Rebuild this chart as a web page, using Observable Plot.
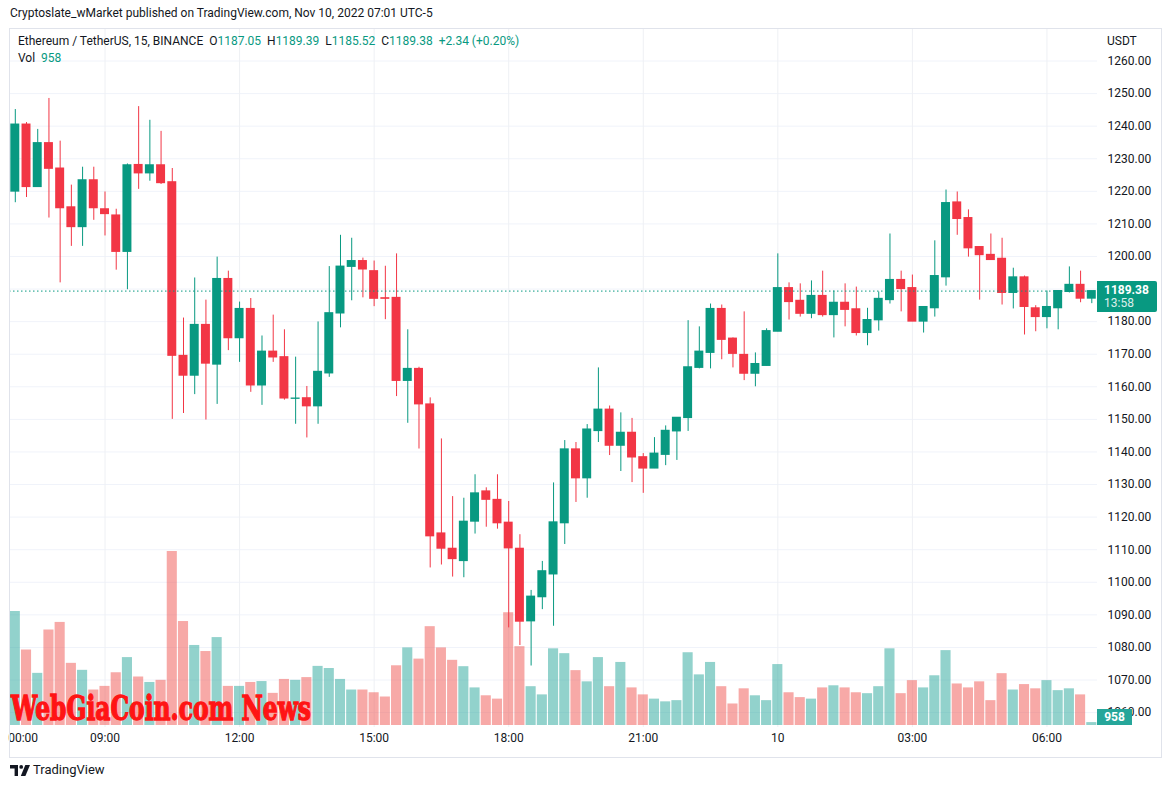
<!DOCTYPE html>
<html><head><meta charset="utf-8">
<script src="https://cdn.jsdelivr.net/npm/d3@7"></script>
<script src="https://cdn.jsdelivr.net/npm/@observablehq/plot@0.6"></script>
<style>
body{margin:0;background:#fff;font-family:Roboto,"Open Sans",sans-serif;color:#131722;}
#wrap{position:relative;width:1171px;height:788px;overflow:hidden;}
.abs{position:absolute;white-space:nowrap;}
#wrap svg{position:absolute;left:0;top:0;}
.t{color:#089981;}
</style></head><body><div id="wrap"></div>
<script>
// ---- data (15-minute candles, Nov 9 07:00 -> Nov 10 07:00) ----
const opens=[1219.9,1240.5,1221.3,1234.8,1227.0,1215.1,1209.0,1223.4,1214.5,1212.6,1201.4,1228.1,1225.5,1228.0,1222.8,1169.5,1163.4,1179.0,1166.8,1193.1,1174.9,1183.9,1160.4,1170.8,1169.1,1156.3,1156.5,1154.0,1164.1,1182.5,1196.8,1198.6,1195.5,1187.2,1187.3,1161.8,1165.5,1154.6,1115.0,1110.3,1106.5,1118.6,1127.9,1125.3,1118.3,1110.3,1088.0,1095.4,1102.4,1118.1,1140.8,1131.9,1146.4,1153.0,1141.9,1145.9,1138.4,1134.9,1139.1,1146.3,1150.4,1165.8,1170.4,1183.9,1174.8,1169.8,1164.0,1166.4,1176.9,1190.3,1186.4,1182.4,1187.9,1182.0,1185.8,1183.8,1176.5,1180.4,1186.6,1192.8,1190.3,1180.0,1184.1,1193.6,1216.6,1211.8,1202.9,1200.5,1199.3,1188.8,1193.6,1184.1,1181.4,1184.1,1189.1,1191.3,1187.05];
const highs=[1245.1,1241.1,1239.0,1248.5,1235.4,1221.9,1227.4,1227.4,1219.8,1214.5,1228.4,1246.0,1241.8,1238.4,1227.0,1181.1,1193.4,1186.6,1199.8,1195.5,1186.0,1187.1,1175.6,1182.0,1177.5,1169.1,1160.1,1179.9,1196.9,1206.5,1205.6,1199.5,1198.6,1197.0,1200.8,1177.5,1166.0,1156.6,1144.0,1126.3,1125.8,1133.0,1129.0,1133.0,1124.8,1114.6,1097.5,1106.4,1130.5,1143.5,1142.9,1148.4,1165.8,1154.1,1152.0,1150.3,1139.5,1144.4,1148.0,1150.5,1180.3,1178.4,1185.4,1185.1,1175.0,1183.0,1170.4,1177.8,1200.8,1191.9,1191.6,1192.5,1195.5,1189.4,1191.6,1190.6,1184.1,1189.1,1206.9,1195.5,1194.3,1184.5,1204.8,1220.4,1219.8,1214.3,1202.9,1206.9,1205.6,1196.4,1194.0,1184.9,1189.4,1189.4,1196.8,1195.5,1189.39];
const lows=[1216.5,1218.1,1221.2,1211.8,1191.9,1203.1,1203.1,1211.1,1206.3,1195.8,1189.8,1220.6,1223.1,1222.1,1150.0,1151.8,1157.6,1149.8,1154.6,1171.1,1167.5,1158.3,1154.3,1167.5,1155.9,1148.5,1144.3,1148.5,1162.9,1178.1,1186.4,1187.3,1184.6,1180.6,1157.0,1148.8,1140.9,1104.4,1105.3,1101.6,1101.4,1114.8,1116.9,1116.3,1086.0,1080.6,1074.3,1091.6,1086.5,1111.6,1124.5,1125.8,1142.9,1138.9,1134.0,1130.6,1127.3,1134.9,1135.8,1137.4,1146.3,1165.5,1165.5,1168.3,1165.8,1161.9,1160.0,1166.4,1176.9,1180.5,1181.4,1180.9,1181.4,1175.0,1178.4,1175.6,1172.6,1177.1,1185.4,1183.0,1180.0,1176.5,1181.4,1190.9,1206.5,1199.8,1186.6,1198.9,1185.1,1183.9,1175.9,1176.9,1177.8,1177.5,1188.8,1185.8,1185.52];
const closes=[1240.5,1221.3,1234.8,1226.9,1214.8,1209.0,1223.4,1214.8,1213.0,1201.4,1228.0,1225.5,1228.0,1222.5,1169.5,1163.4,1179.0,1167.1,1193.1,1174.9,1183.9,1160.4,1170.8,1169.0,1156.4,1156.4,1154.0,1164.6,1182.6,1196.9,1198.6,1196.0,1187.0,1187.0,1161.8,1165.5,1154.6,1114.1,1110.3,1107.1,1118.6,1127.3,1125.3,1118.1,1110.4,1087.9,1095.6,1103.4,1118.4,1140.8,1131.9,1146.9,1153.0,1141.9,1145.9,1138.3,1134.9,1139.5,1146.5,1150.5,1166.0,1170.8,1183.9,1174.4,1170.1,1164.0,1167.0,1177.1,1190.3,1186.0,1182.4,1187.9,1182.0,1185.8,1183.6,1176.5,1180.5,1187.0,1192.8,1190.0,1180.0,1184.5,1194.0,1216.4,1211.5,1202.5,1200.4,1198.9,1188.8,1193.6,1184.5,1181.4,1184.5,1189.4,1191.3,1187.04,1189.38];
const volumes=[37600,24900,17200,31500,34000,20500,18200,11700,12900,17400,22400,16000,14200,14900,57400,34300,26400,24400,29000,12900,12900,14200,14500,10600,15200,14900,15800,19500,18800,15200,11700,11700,10800,9400,19700,25600,21900,32600,25600,21500,19400,12400,9800,8700,37200,26000,12800,10100,25300,23700,18100,14400,22400,12800,20800,12400,10100,8700,7800,8200,24000,16700,20800,12800,7100,12100,9800,8200,20100,10800,9200,8700,12400,13100,12400,10800,10500,12800,25300,10500,14800,12400,16400,24700,13700,12400,14400,8200,17100,11700,13500,12100,14800,11500,12100,10100,958];
const priceTicks=[1060,1070,1080,1090,1100,1110,1120,1130,1140,1150,1160,1170,1180,1190,1200,1210,1220,1230,1240,1250,1260];
// 1190.00 is hidden behind the last-price label in the reference
const priceLabelTicks=[1060,1070,1080,1090,1100,1110,1120,1130,1140,1150,1160,1170,1180,1200,1210,1220,1230,1240,1250,1260];
const timeTicks=[0.7,8,20,32,44,56,68,80,92];
const timeLabels=["00:00","09:00","12:00","15:00","18:00","21:00","10","03:00","06:00"];
const gridTicks=[8,20,32,44,56,68,80,92];
const lastTimeLeft="13:58";

const UP="#089981", DOWN="#f23645", VUP="#26a69a", VDOWN="#ef5350";
const data=opens.map((o,i)=>({i,open:o,high:highs[i],low:lows[i],close:closes[i],vol:volumes[i],up:closes[i]>=o}));

const W=1171,H=788;
const base={width:W,height:H,marginTop:28,marginBottom:61,marginLeft:9,marginRight:74,
  style:{background:"transparent",fontFamily:"Roboto, sans-serif",fontSize:"12px",color:"#131722",overflow:"visible"}};
const xs={domain:[0,96],range:[14.8,1091.3],axis:null};
const ys={domain:[1060,1260],range:[712.1,60.5]};

const wrap=document.getElementById("wrap");

// layer 1: grid + axes
const grid=Plot.plot({...base,x:xs,y:{...ys},
  marks:[
    Plot.gridY(priceTicks,{stroke:"#f0f3fa",strokeOpacity:1}),
    Plot.ruleX(gridTicks,{stroke:"#eef0f4",strokeOpacity:1}),
    Plot.axisY(priceLabelTicks,{anchor:"right",tickSize:0,tickPadding:10,tickFormat:d=>d.toFixed(2),label:null,fill:"#131722"}),
    Plot.text(timeTicks,{x:d=>d,text:(d,i)=>timeLabels[i],frameAnchor:"bottom",dy:14,fill:"#131722"})
  ]});
wrap.appendChild(grid);

// layer 2: volume
const volPlot=Plot.plot({...base,x:xs,y:{domain:[0,57400],range:[725,551],axis:null},color:{type:"identity"},
  marks:[
    Plot.rect(data,{x1:d=>d.i-0.45,x2:d=>d.i+0.45,y1:0,y2:"vol",fill:d=>d.up?VUP:VDOWN,fillOpacity:0.5})
  ]});
wrap.appendChild(volPlot);

// watermark
const ns="http://www.w3.org/2000/svg";
const wm=document.createElementNS(ns,"svg");
wm.setAttribute("width",W);wm.setAttribute("height",H);
const wt=document.createElementNS(ns,"text");
wt.setAttribute("x",11);wt.setAttribute("y",720);
wt.setAttribute("font-family","DejaVu Serif");wt.setAttribute("font-weight","bold");
wt.setAttribute("font-stretch","condensed");
wt.setAttribute("font-size","33");wt.setAttribute("fill","#ff1414");
wt.setAttribute("stroke","#ff1414");wt.setAttribute("stroke-width","1.3");
wt.setAttribute("textLength","300");wt.setAttribute("lengthAdjust","spacingAndGlyphs");
wt.textContent="WebGiaCoin.com News";
wm.appendChild(wt);wrap.appendChild(wm);

// layer 3: candles
const cand=Plot.plot({...base,x:xs,y:{...ys,axis:null},color:{type:"identity"},
  marks:[
    Plot.ruleX(data,{x:"i",y1:"low",y2:"high",stroke:d=>d.up?UP:DOWN,clip:true}),
    Plot.rect(data,{x1:d=>d.i-0.4,x2:d=>d.i+0.4,y1:"open",y2:"close",fill:d=>d.up?UP:DOWN,insetTop:-0.5,insetBottom:-0.5,clip:true}),
    Plot.ruleY([closes[closes.length-1]],{stroke:UP,strokeDasharray:"1.5,2.5",strokeWidth:1})
  ]});
wrap.appendChild(cand);

const last=data[data.length-1], prev=data[data.length-2];
const chg=last.close-prev.close, pct=chg/prev.close*100;
const f=v=>v.toFixed(2);
const col=last.up?"t":"";

function div(html,style){const d=document.createElement("div");d.className="abs";d.innerHTML=html;d.setAttribute("style",style);wrap.appendChild(d);return d;}

// header
div("Cryptoslate_wMarket published on TradingView.com, Nov 10, 2022 07:01 UTC-5","left:10px;top:6px;font-size:12px;color:#131722;");
// panel border
div("","left:9px;top:28px;width:1151px;height:728px;border:1px solid #e0e3eb;box-sizing:content-box;");
div(`Ethereum / TetherUS, 15, BINANCE&nbsp;&nbsp;O<span class="${col}">${f(last.open)}</span>&nbsp;&nbsp;H<span class="${col}">${f(last.high)}</span>&nbsp;&nbsp;L<span class="${col}">${f(last.low)}</span>&nbsp;&nbsp;C<span class="${col}">${f(last.close)}</span>&nbsp;&nbsp;<span class="${col}">${chg>=0?"+":""}${f(chg)} (${pct>=0?"+":""}${f(pct)}%)</span>`,
  "left:18px;top:34px;font-size:12px;color:#131722;");
div(`Vol&nbsp;&nbsp;<span class="${col}">${last.vol}</span>`,"left:18px;top:51px;font-size:12px;color:#131722;");
div("USDT","left:1107px;top:34px;font-size:12px;color:#131722;");

// last price label
const yP=cand.scale("y").apply(last.close);
div(`<div style="font-weight:bold;line-height:13px">${f(last.close)}</div><div style="line-height:13px;opacity:.85">${lastTimeLeft}</div>`,
  `left:1097px;top:${yP-9.5}px;width:60px;height:31px;background:${UP};color:#fff;font-size:12px;padding:3px 0 0 7px;box-sizing:border-box;border-radius:0 2px 2px 0;`);
// last volume label
const yV=volPlot.scale("y").apply(last.vol);
div(`${last.vol}`,`left:1097px;top:${yV-13}px;width:35px;height:16px;background:${VUP};color:#fff;font-size:12px;font-weight:bold;line-height:16px;text-align:center;`);

// footer logo
div(`<svg width="20" height="11" viewBox="0 0 20 11" style="position:static"><path d="M0 0H8V11H4.6V3.4H0Z" fill="#131722"/><circle cx="11.2" cy="1.9" r="1.9" fill="#131722"/><path d="M15.3 0H20L15.4 11H10.8Z" fill="#131722"/></svg>`,"left:10px;top:765px;line-height:0;");
div("TradingView","left:33px;top:762px;font-size:13px;color:#131722;");
</script></body></html>
